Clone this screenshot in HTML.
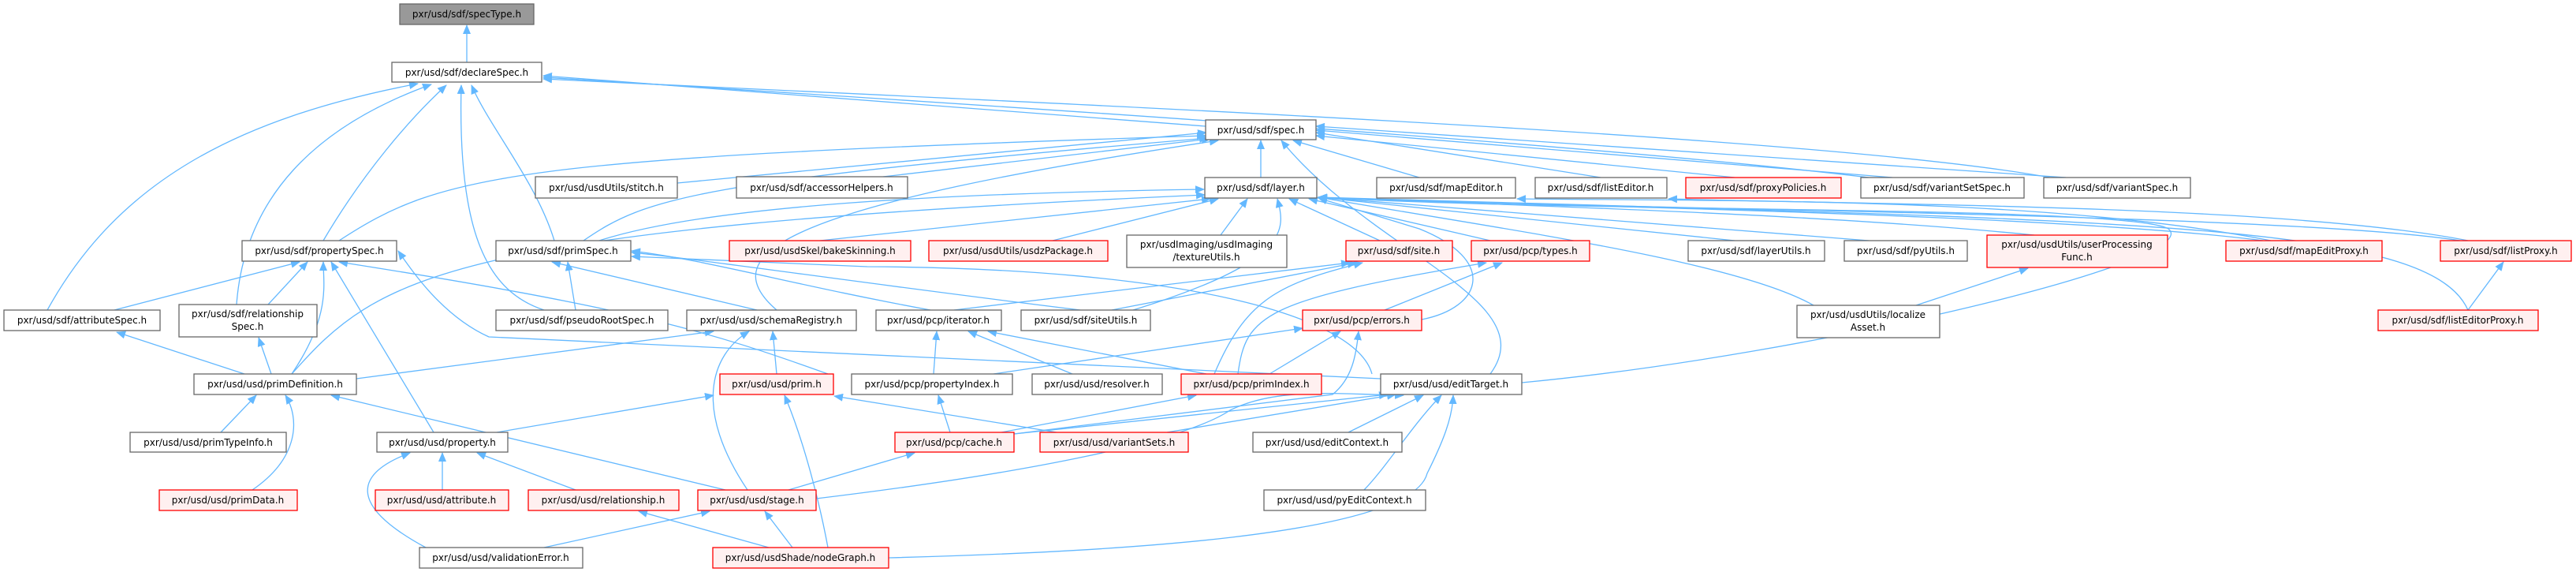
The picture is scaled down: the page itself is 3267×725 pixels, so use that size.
<!DOCTYPE html>
<html><head><meta charset="utf-8"><style>
html,body{margin:0;padding:0;background:#fff;}
svg{display:block;}
text{font-family:"DejaVu Sans","Liberation Sans",sans-serif;font-size:12px;fill:#000;}
.n{fill:#fff;stroke:#666;stroke-width:1.3;}
.r{fill:#fff0f0;stroke:#f00;stroke-width:1.3;}
.g{fill:#999;stroke:#666;stroke-width:1.3;}
.e{fill:none;stroke:#63b8ff;stroke-width:1.3;marker-end:url(#a);}
</style></head><body>
<svg width="3267" height="725" viewBox="0 0 3267 725" xmlns="http://www.w3.org/2000/svg">
<defs><marker id="a" markerWidth="12" markerHeight="10" refX="11" refY="5" orient="auto" markerUnits="userSpaceOnUse"><path d="M0,0 L12,5 L0,10 z" fill="#63b8ff"/></marker></defs>
<g>
<path class="e" d="M592,79 L592,32"/>
<path class="e" d="M1529,160 L689,96"/>
<path class="e" d="M2370,225 C2000,180 1200,130 689,98"/>
<path class="e" d="M2600,225 C2300,170 1300,130 689,100"/>
<path class="e" d="M60,393 C150,230 300,150 530,106"/>
<path class="e" d="M300,386 C310,250 400,160 547,107"/>
<path class="e" d="M410,305 C460,220 520,150 566,108"/>
<path class="e" d="M690,393 C620,370 580,300 585,108"/>
<path class="e" d="M703,305 C680,230 620,160 598,108"/>
<path class="e" d="M430,305 C560,220 650,200 1529,172"/>
<path class="e" d="M740,305 C820,250 880,230 1532,175"/>
<path class="e" d="M859,232 L1530,168"/>
<path class="e" d="M1120,224 L1535,176"/>
<path class="e" d="M985,393 C900,320 1000,260 1545,178"/>
<path class="e" d="M370,474 C480,350 560,290 1528,247"/>
<path class="e" d="M1599,225 L1599,178"/>
<path class="e" d="M1800,225 L1640,178"/>
<path class="e" d="M1890,474 C1960,380 1740,320 1625,178"/>
<path class="e" d="M2030,225 L1669,168"/>
<path class="e" d="M2200,225 L1669,172"/>
<path class="e" d="M2400,225 L1669,165"/>
<path class="e" d="M2620,225 L1669,160"/>
<path class="e" d="M760,305 C900,260 1200,245 1527,240"/>
<path class="e" d="M1040,305 L1535,252"/>
<path class="e" d="M1335,305 L1545,252"/>
<path class="e" d="M1548,298 L1582,252"/>
<path class="e" d="M1437,393 C1640,330 1630,290 1620,252"/>
<path class="e" d="M1750,305 L1635,252"/>
<path class="e" d="M1890,305 L1660,252"/>
<path class="e" d="M2200,305 L1672,250"/>
<path class="e" d="M2370,305 L1672,250"/>
<path class="e" d="M2580,298 C2300,270 1900,260 1672,250"/>
<path class="e" d="M2870,305 C2600,270 1900,260 1672,250"/>
<path class="e" d="M3120,305 C2900,270 2000,265 1672,250"/>
<path class="e" d="M3130,393 C3080,280 2700,280 1672,250"/>
<path class="e" d="M2300,387 C2200,330 1900,290 1672,250"/>
<path class="e" d="M1803,405 C1880,390 1900,330 1800,290 L1672,251"/>
<path class="e" d="M1930,485 C2300,450 2800,330 2750,290 C2700,260 2000,270 1672,250"/>
<path class="e" d="M2880,305 C2600,250 2200,255 1924,252"/>
<path class="e" d="M3130,305 C2900,260 2400,260 2116,252"/>
<path class="e" d="M3130,393 L3175,332"/>
<path class="e" d="M2430,387 L2572,340"/>
<path class="e" d="M1210,393 L1712,333"/>
<path class="e" d="M1410,393 L1720,333"/>
<path class="e" d="M1540,474 C1580,380 1620,360 1728,333"/>
<path class="e" d="M1570,474 C1580,400 1600,380 1885,333"/>
<path class="e" d="M1756,393 L1905,333"/>
<path class="e" d="M1184,474 L1188,420"/>
<path class="e" d="M1360,474 L1228,420"/>
<path class="e" d="M1530,474 L1253,420"/>
<path class="e" d="M1180,393 C1000,360 900,330 801,318"/>
<path class="e" d="M1370,393 C1100,360 900,330 801,320"/>
<path class="e" d="M1751,480 L620,427 C560,400 520,340 505,318"/>
<path class="e" d="M1740,474 C1720,400 1500,340 1100,338 L801,325"/>
<path class="e" d="M145,393 L380,332"/>
<path class="e" d="M340,386 L390,332"/>
<path class="e" d="M370,474 C420,400 410,360 410,332"/>
<path class="e" d="M550,548 L420,332"/>
<path class="e" d="M1050,474 C900,420 800,390 430,332"/>
<path class="e" d="M730,393 L720,332"/>
<path class="e" d="M960,393 L700,332"/>
<path class="e" d="M452,480 L905,420"/>
<path class="e" d="M985,474 L980,420"/>
<path class="e" d="M948,621 C880,520 900,450 950,420"/>
<path class="e" d="M310,474 L148,421"/>
<path class="e" d="M344,474 L328,428"/>
<path class="e" d="M280,548 L325,501"/>
<path class="e" d="M320,621 C380,580 380,530 362,501"/>
<path class="e" d="M920,621 L420,501"/>
<path class="e" d="M630,548 L905,501"/>
<path class="e" d="M1050,694 C1040,640 1020,560 995,501"/>
<path class="e" d="M1340,548 L1058,502"/>
<path class="e" d="M540,694 C440,640 450,600 520,574"/>
<path class="e" d="M561,621 L561,574"/>
<path class="e" d="M730,621 L605,574"/>
<path class="e" d="M690,694 L900,648"/>
<path class="e" d="M1005,694 L970,648"/>
<path class="e" d="M1000,621 L1160,574"/>
<path class="e" d="M975,694 L810,648"/>
<path class="e" d="M1205,548 L1190,501"/>
<path class="e" d="M1270,548 L1517,501"/>
<path class="e" d="M1286,550 L1690,500 C1715,480 1720,450 1723,420"/>
<path class="e" d="M1260,474 L1652,416"/>
<path class="e" d="M1610,474 L1700,420"/>
<path class="e" d="M1286,550 L1760,500"/>
<path class="e" d="M1480,548 L1770,500"/>
<path class="e" d="M1035,632 C1300,600 1500,560 1560,520 C1620,490 1700,500 1780,501"/>
<path class="e" d="M1710,548 L1805,501"/>
<path class="e" d="M1730,621 C1760,590 1790,540 1828,501"/>
<path class="e" d="M1127,707 C1400,700 1790,680 1810,600 C1830,560 1842,530 1843,501"/>
</g>
<g>
<rect class="g" x="507" y="5" width="170" height="26"/><text x="592" y="22" text-anchor="middle">pxr/usd/sdf/specType.h</text>
<rect class="n" x="497" y="79" width="190" height="25"/><text x="592" y="96" text-anchor="middle">pxr/usd/sdf/declareSpec.h</text>
<rect class="n" x="1529" y="152" width="140" height="25"/><text x="1599" y="169" text-anchor="middle">pxr/usd/sdf/spec.h</text>

<rect class="n" x="679" y="224" width="180" height="27"/><text x="769" y="242" text-anchor="middle">pxr/usd/usdUtils/stitch.h</text>
<rect class="n" x="934" y="224" width="217" height="27"/><text x="1042" y="242" text-anchor="middle">pxr/usd/sdf/accessorHelpers.h</text>
<rect class="n" x="1528" y="225" width="142" height="26"/><text x="1599" y="242" text-anchor="middle">pxr/usd/sdf/layer.h</text>
<rect class="n" x="1746" y="225" width="176" height="26"/><text x="1834" y="242" text-anchor="middle">pxr/usd/sdf/mapEditor.h</text>
<rect class="n" x="1947" y="225" width="167" height="26"/><text x="2030" y="242" text-anchor="middle">pxr/usd/sdf/listEditor.h</text>
<rect class="r" x="2138" y="225" width="197" height="26"/><text x="2236" y="242" text-anchor="middle">pxr/usd/sdf/proxyPolicies.h</text>
<rect class="n" x="2360" y="225" width="207" height="26"/><text x="2463" y="242" text-anchor="middle">pxr/usd/sdf/variantSetSpec.h</text>
<rect class="n" x="2592" y="225" width="186" height="26"/><text x="2685" y="242" text-anchor="middle">pxr/usd/sdf/variantSpec.h</text>

<rect class="n" x="307" y="305" width="196" height="26"/><text x="405" y="322" text-anchor="middle">pxr/usd/sdf/propertySpec.h</text>
<rect class="n" x="629" y="305" width="171" height="26"/><text x="714" y="322" text-anchor="middle">pxr/usd/sdf/primSpec.h</text>
<rect class="r" x="925" y="305" width="230" height="26"/><text x="1040" y="322" text-anchor="middle">pxr/usd/usdSkel/bakeSkinning.h</text>
<rect class="r" x="1178" y="305" width="227" height="26"/><text x="1291" y="322" text-anchor="middle">pxr/usd/usdUtils/usdzPackage.h</text>
<rect class="n" x="1429" y="298" width="203" height="41"/><text x="1530" y="314" text-anchor="middle">pxr/usdImaging/usdImaging</text><text x="1530" y="330" text-anchor="middle">/textureUtils.h</text>
<rect class="r" x="1707" y="305" width="135" height="26"/><text x="1774" y="322" text-anchor="middle">pxr/usd/sdf/site.h</text>
<rect class="r" x="1866" y="305" width="150" height="26"/><text x="1941" y="322" text-anchor="middle">pxr/usd/pcp/types.h</text>
<rect class="n" x="2141" y="305" width="173" height="26"/><text x="2227" y="322" text-anchor="middle">pxr/usd/sdf/layerUtils.h</text>
<rect class="n" x="2339" y="305" width="156" height="26"/><text x="2417" y="322" text-anchor="middle">pxr/usd/sdf/pyUtils.h</text>
<rect class="r" x="2520" y="298" width="229" height="41"/><text x="2634" y="314" text-anchor="middle">pxr/usd/usdUtils/userProcessing</text><text x="2634" y="330" text-anchor="middle">Func.h</text>
<rect class="r" x="2823" y="305" width="198" height="26"/><text x="2922" y="322" text-anchor="middle">pxr/usd/sdf/mapEditProxy.h</text>
<rect class="r" x="3095" y="305" width="166" height="26"/><text x="3178" y="322" text-anchor="middle">pxr/usd/sdf/listProxy.h</text>

<rect class="n" x="5" y="393" width="198" height="26"/><text x="104" y="410" text-anchor="middle">pxr/usd/sdf/attributeSpec.h</text>
<rect class="n" x="227" y="386" width="175" height="41"/><text x="314" y="402" text-anchor="middle">pxr/usd/sdf/relationship</text><text x="314" y="418" text-anchor="middle">Spec.h</text>
<rect class="n" x="629" y="393" width="218" height="26"/><text x="738" y="410" text-anchor="middle">pxr/usd/sdf/pseudoRootSpec.h</text>
<rect class="n" x="871" y="393" width="215" height="26"/><text x="978" y="410" text-anchor="middle">pxr/usd/usd/schemaRegistry.h</text>
<rect class="n" x="1111" y="393" width="159" height="26"/><text x="1190" y="410" text-anchor="middle">pxr/usd/pcp/iterator.h</text>
<rect class="n" x="1295" y="393" width="164" height="26"/><text x="1377" y="410" text-anchor="middle">pxr/usd/sdf/siteUtils.h</text>
<rect class="r" x="1652" y="393" width="151" height="26"/><text x="1727" y="410" text-anchor="middle">pxr/usd/pcp/errors.h</text>
<rect class="n" x="2279" y="387" width="181" height="41"/><text x="2369" y="403" text-anchor="middle">pxr/usd/usdUtils/localize</text><text x="2369" y="419" text-anchor="middle">Asset.h</text>
<rect class="r" x="3016" y="393" width="203" height="26"/><text x="3117" y="410" text-anchor="middle">pxr/usd/sdf/listEditorProxy.h</text>

<rect class="n" x="246" y="474" width="206" height="26"/><text x="349" y="491" text-anchor="middle">pxr/usd/usd/primDefinition.h</text>
<rect class="r" x="913" y="474" width="144" height="26"/><text x="985" y="491" text-anchor="middle">pxr/usd/usd/prim.h</text>
<rect class="n" x="1080" y="474" width="204" height="26"/><text x="1182" y="491" text-anchor="middle">pxr/usd/pcp/propertyIndex.h</text>
<rect class="n" x="1309" y="474" width="165" height="26"/><text x="1391" y="491" text-anchor="middle">pxr/usd/usd/resolver.h</text>
<rect class="r" x="1498" y="474" width="178" height="26"/><text x="1587" y="491" text-anchor="middle">pxr/usd/pcp/primIndex.h</text>
<rect class="n" x="1751" y="474" width="179" height="26"/><text x="1840" y="491" text-anchor="middle">pxr/usd/usd/editTarget.h</text>

<rect class="n" x="165" y="548" width="198" height="25"/><text x="264" y="565" text-anchor="middle">pxr/usd/usd/primTypeInfo.h</text>
<rect class="n" x="478" y="548" width="166" height="25"/><text x="561" y="565" text-anchor="middle">pxr/usd/usd/property.h</text>
<rect class="r" x="1135" y="548" width="151" height="25"/><text x="1210" y="565" text-anchor="middle">pxr/usd/pcp/cache.h</text>
<rect class="r" x="1319" y="548" width="188" height="25"/><text x="1413" y="565" text-anchor="middle">pxr/usd/usd/variantSets.h</text>
<rect class="n" x="1589" y="548" width="189" height="25"/><text x="1683" y="565" text-anchor="middle">pxr/usd/usd/editContext.h</text>

<rect class="r" x="202" y="621" width="175" height="26"/><text x="289" y="638" text-anchor="middle">pxr/usd/usd/primData.h</text>
<rect class="r" x="476" y="621" width="169" height="26"/><text x="560" y="638" text-anchor="middle">pxr/usd/usd/attribute.h</text>
<rect class="r" x="670" y="621" width="191" height="26"/><text x="765" y="638" text-anchor="middle">pxr/usd/usd/relationship.h</text>
<rect class="r" x="885" y="621" width="150" height="26"/><text x="960" y="638" text-anchor="middle">pxr/usd/usd/stage.h</text>
<rect class="n" x="1603" y="621" width="205" height="26"/><text x="1705" y="638" text-anchor="middle">pxr/usd/usd/pyEditContext.h</text>

<rect class="n" x="532" y="694" width="207" height="26"/><text x="635" y="711" text-anchor="middle">pxr/usd/usd/validationError.h</text>
<rect class="r" x="904" y="694" width="223" height="26"/><text x="1015" y="711" text-anchor="middle">pxr/usd/usdShade/nodeGraph.h</text>
</g>
</svg>
</body></html>
